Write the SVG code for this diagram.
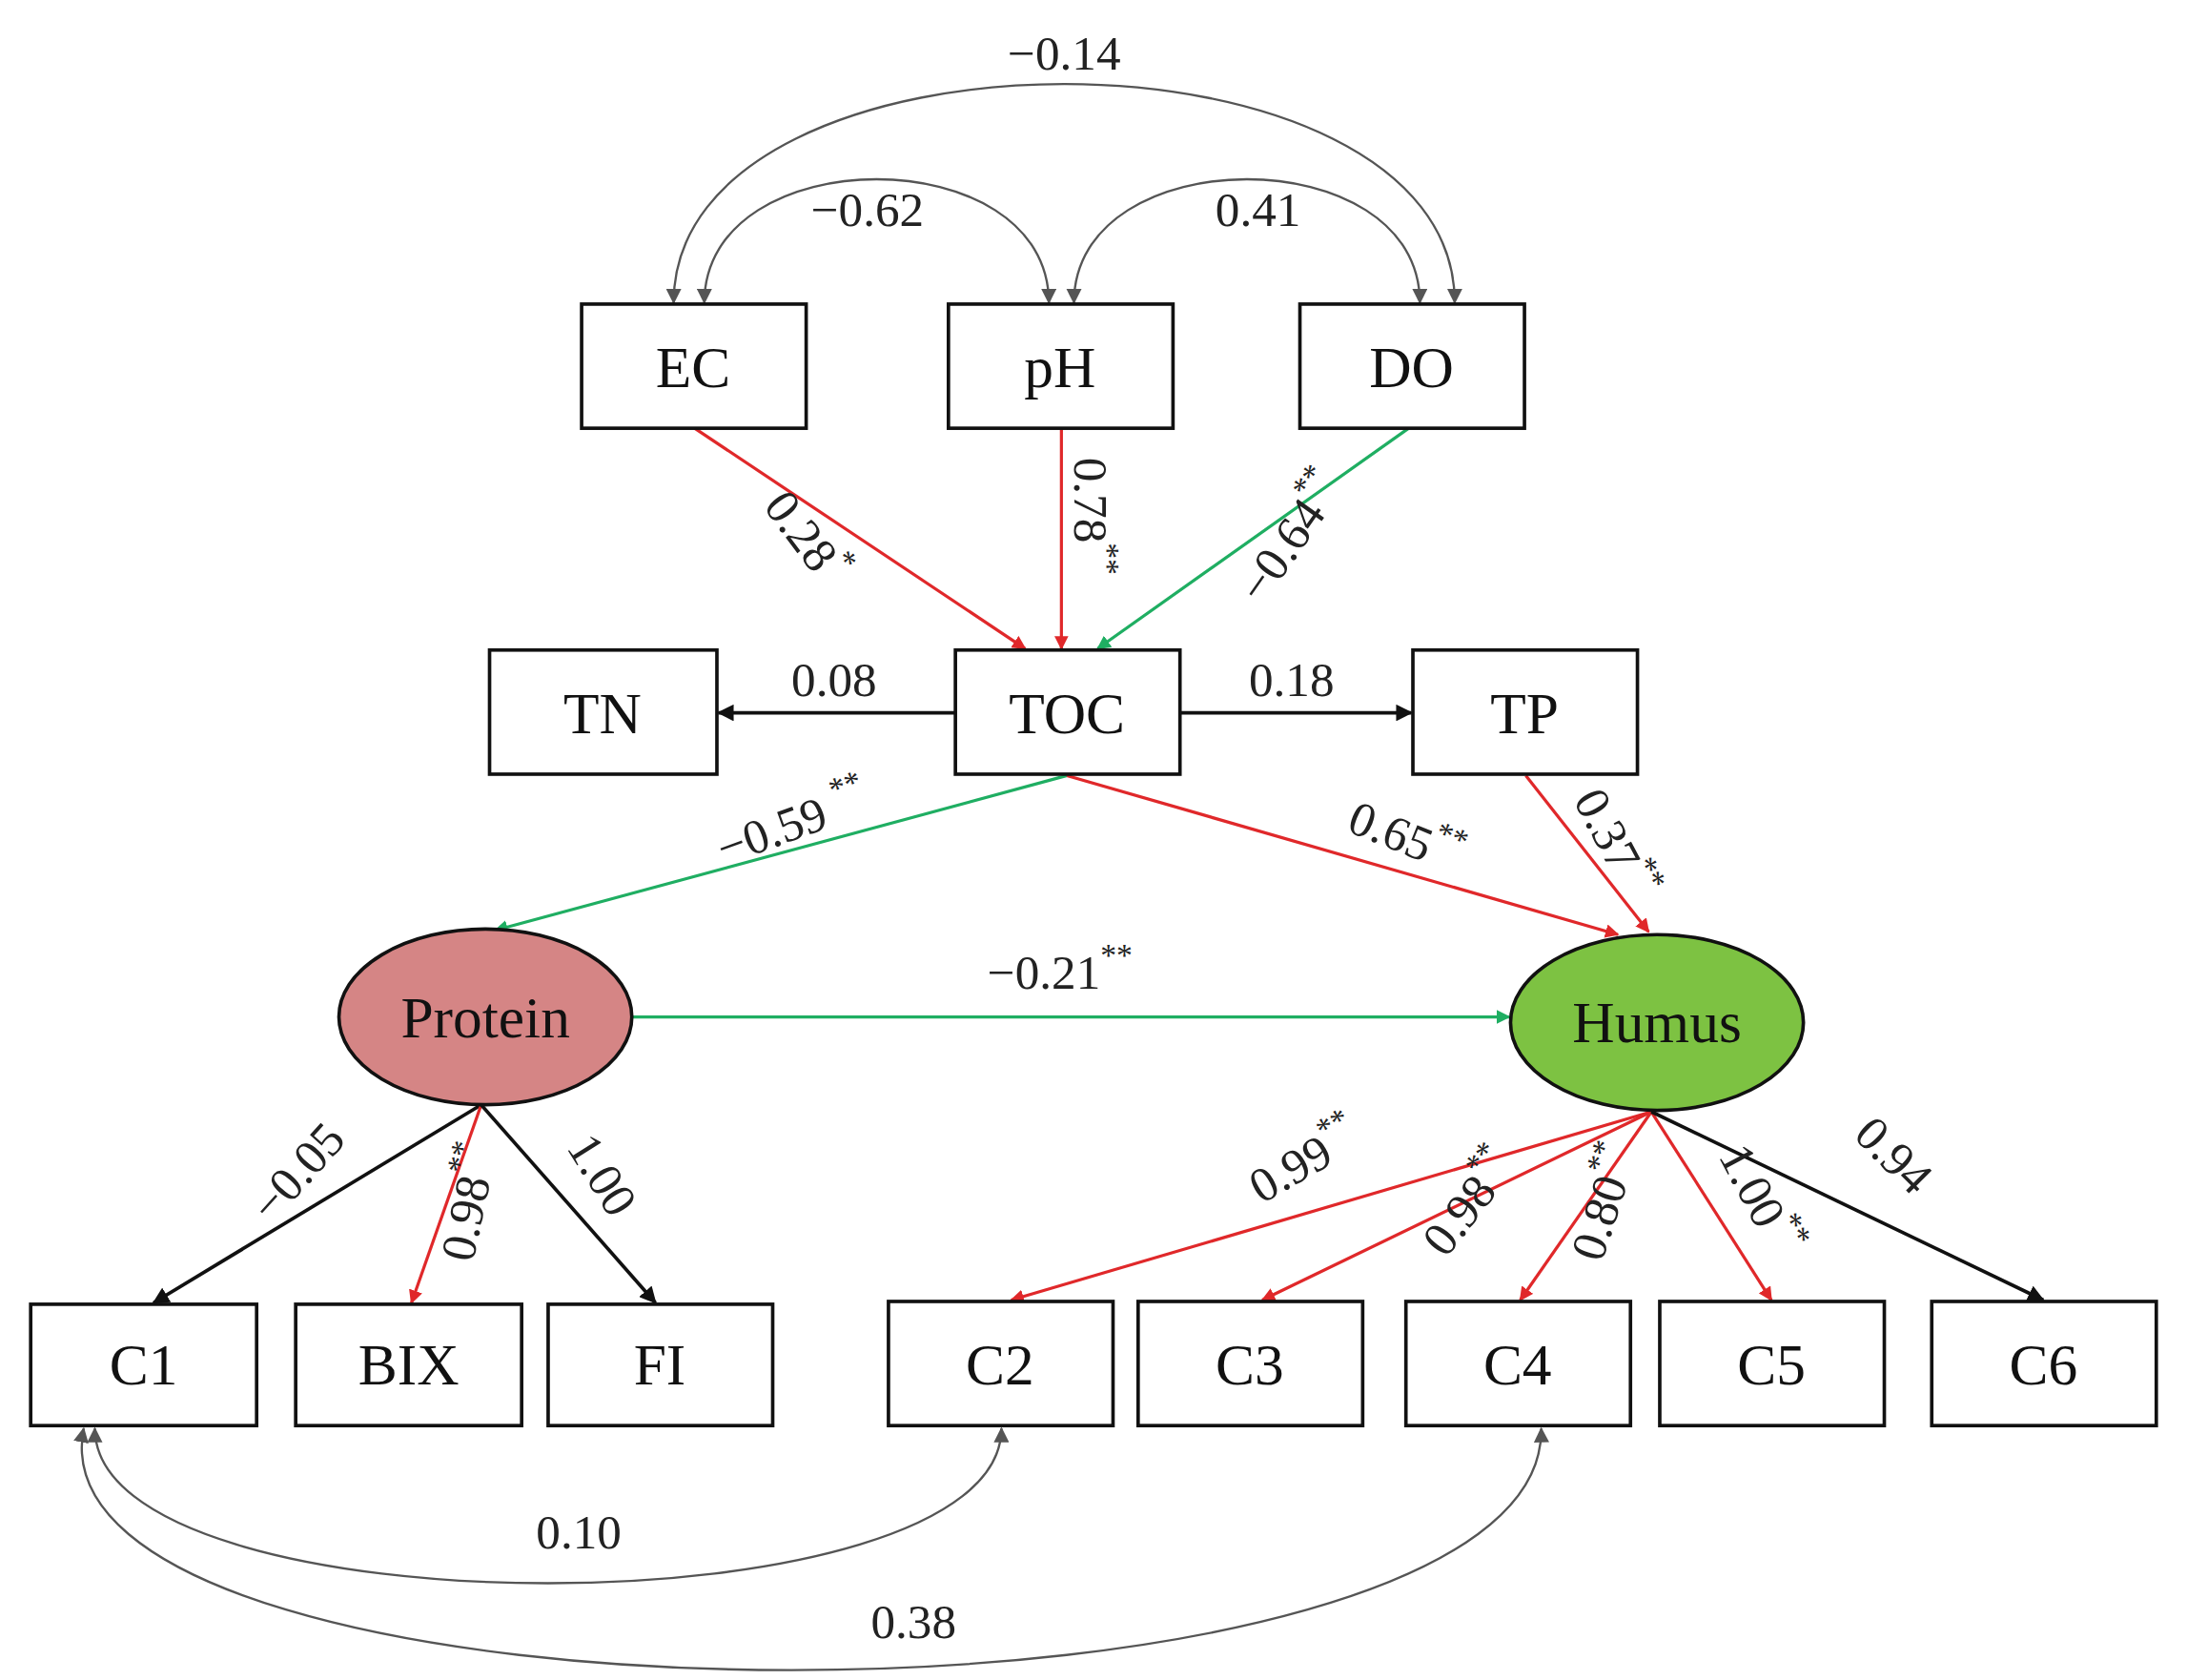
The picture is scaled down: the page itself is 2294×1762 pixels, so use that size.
<svg xmlns="http://www.w3.org/2000/svg" width="2294" height="1762" viewBox="0 0 2294 1762">
<defs>
<style>
.b{fill:#fff;stroke:#111;stroke-width:2.5}
.t{font-family:"Liberation Serif",serif;font-size:42px;fill:#111;text-anchor:middle;dominant-baseline:central}
.l{font-family:"Liberation Serif",serif;font-size:35px;fill:#222;text-anchor:middle;dominant-baseline:central}
.s{font-size:23px;baseline-shift:super}
.r{stroke:#e0282a;stroke-width:2.2;fill:none}
.g{stroke:#1fae62;stroke-width:2.2;fill:none}
.k{stroke:#111;stroke-width:2.5;fill:none}
.c{stroke:#555;stroke-width:1.6;fill:none}
</style>
<marker id="mr" markerWidth="10" markerHeight="10" refX="9" refY="5" orient="auto" markerUnits="userSpaceOnUse"><path d="M0,0 L10,5 L0,10 Z" fill="#e0282a"/></marker>
<marker id="mg" markerWidth="10" markerHeight="10" refX="9" refY="5" orient="auto" markerUnits="userSpaceOnUse"><path d="M0,0 L10,5 L0,10 Z" fill="#1fae62"/></marker>
<marker id="mk" markerWidth="12" markerHeight="12" refX="11" refY="6" orient="auto" markerUnits="userSpaceOnUse"><path d="M0,0 L12,6 L0,12 Z" fill="#111"/></marker>
<marker id="mc" markerWidth="11" markerHeight="11" refX="10" refY="5.5" orient="auto-start-reverse" markerUnits="userSpaceOnUse"><path d="M0,0 L11,5.5 L0,11 Z" fill="#555"/></marker>
</defs>
<rect width="2294" height="1762" fill="#fff"/>
<g transform="scale(1.463)">
<g id="connectors">
<path class="c" d="M483,217 C483,8 1043,8 1043,217" marker-start="url(#mc)" marker-end="url(#mc)"/>
<path class="c" d="M505,217 C505,99 752,99 752,217" marker-start="url(#mc)" marker-end="url(#mc)"/>
<path class="c" d="M770,217 C770,99 1018,99 1018,217" marker-start="url(#mc)" marker-end="url(#mc)"/>
<path class="c" d="M68,1024 C68,1172 718,1172 718,1024" marker-start="url(#mc)" marker-end="url(#mc)"/>
<path class="c" d="M60,1024 C15,1255 1110,1255 1105,1024" marker-start="url(#mc)" marker-end="url(#mc)"/>
<line class="r" x1="498" y1="307" x2="735" y2="465" marker-end="url(#mr)"/>
<line class="r" x1="761" y1="307" x2="761" y2="465" marker-end="url(#mr)"/>
<line class="g" x1="1010" y1="307" x2="787" y2="465" marker-end="url(#mg)"/>
<line class="k" x1="685" y1="511" x2="515" y2="511" marker-end="url(#mk)"/>
<line class="k" x1="846" y1="511" x2="1012" y2="511" marker-end="url(#mk)"/>
<line class="g" x1="765" y1="556" x2="355" y2="667" marker-end="url(#mg)"/>
<line class="r" x1="765" y1="556" x2="1160" y2="670" marker-end="url(#mr)"/>
<line class="r" x1="1094" y1="556" x2="1182" y2="668" marker-end="url(#mr)"/>
<line class="g" x1="453" y1="729" x2="1082" y2="729" marker-end="url(#mg)"/>
<line class="k" x1="345" y1="792" x2="110" y2="934" marker-end="url(#mk)"/>
<line class="r" x1="345" y1="792" x2="295" y2="934" marker-end="url(#mr)"/>
<line class="k" x1="345" y1="792" x2="470" y2="934" marker-end="url(#mk)"/>
<line class="r" x1="1184" y1="797" x2="725" y2="932" marker-end="url(#mr)"/>
<line class="r" x1="1184" y1="797" x2="905" y2="932" marker-end="url(#mr)"/>
<line class="r" x1="1184" y1="797" x2="1090" y2="932" marker-end="url(#mr)"/>
<line class="r" x1="1184" y1="797" x2="1270" y2="932" marker-end="url(#mr)"/>
<line class="k" x1="1184" y1="797" x2="1465" y2="932" marker-end="url(#mk)"/>
</g>
<g id="EC"><rect class="b" x="417" y="218" width="161" height="89"/><text class="t" x="497" y="263">EC</text></g>
<g id="pH"><rect class="b" x="680" y="218" width="161" height="89"/><text class="t" x="760" y="263">pH</text></g>
<g id="DO"><rect class="b" x="932" y="218" width="161" height="89"/><text class="t" x="1012" y="263">DO</text></g>
<g id="TN"><rect class="b" x="351" y="466" width="163" height="89"/><text class="t" x="432" y="511">TN</text></g>
<g id="TOC"><rect class="b" x="685" y="466" width="161" height="89"/><text class="t" x="765" y="511">TOC</text></g>
<g id="TP"><rect class="b" x="1013" y="466" width="161" height="89"/><text class="t" x="1093" y="511">TP</text></g>
<g id="Protein"><ellipse cx="348" cy="729" rx="105" ry="63" fill="#d58585" stroke="#111" stroke-width="2.5"/><text class="t" x="348" y="729">Protein</text></g>
<g id="Humus"><ellipse cx="1188" cy="733" rx="105" ry="63" fill="#7dc242" stroke="#111" stroke-width="2.5"/><text class="t" x="1188" y="733">Humus</text></g>
<g id="C1"><rect class="b" x="22" y="935" width="162" height="87"/><text class="t" x="103" y="978">C1</text></g>
<g id="BIX"><rect class="b" x="212" y="935" width="162" height="87"/><text class="t" x="293" y="978">BIX</text></g>
<g id="FI"><rect class="b" x="393" y="935" width="161" height="87"/><text class="t" x="473" y="978">FI</text></g>
<g id="C2"><rect class="b" x="637" y="933" width="161" height="89"/><text class="t" x="717" y="978">C2</text></g>
<g id="C3"><rect class="b" x="816" y="933" width="161" height="89"/><text class="t" x="896" y="978">C3</text></g>
<g id="C4"><rect class="b" x="1008" y="933" width="161" height="89"/><text class="t" x="1088" y="978">C4</text></g>
<g id="C5"><rect class="b" x="1190" y="933" width="161" height="89"/><text class="t" x="1270" y="978">C5</text></g>
<g id="C6"><rect class="b" x="1385" y="933" width="161" height="89"/><text class="t" x="1465" y="978">C6</text></g>
<g id="labels">
<text class="l" x="763" y="38">−0.14</text>
<text class="l" x="622" y="150">−0.62</text>
<text class="l" x="902" y="150">0.41</text>
<text class="l" transform="translate(578,385) rotate(53)">0.28<tspan class="s">*</tspan></text>
<text class="l" transform="translate(782,370) rotate(90)">0.78<tspan class="s">**</tspan></text>
<text class="l" transform="translate(925,385) rotate(-55)">−0.64<tspan class="s">**</tspan></text>
<text class="l" x="598" y="487">0.08</text>
<text class="l" x="926" y="487">0.18</text>
<text class="l" transform="translate(568,590) rotate(-20)">−0.59 <tspan class="s">**</tspan></text>
<text class="l" transform="translate(1008,600) rotate(22)">0.65<tspan class="s">**</tspan></text>
<text class="l" transform="translate(1158,605) rotate(62)">0.37<tspan class="s">**</tspan></text>
<text class="l" x="760" y="697">−0.21<tspan class="s">**</tspan></text>
<text class="l" transform="translate(213,840) rotate(-48)">−0.05</text>
<text class="l" transform="translate(336,862) rotate(-78)">0.98<tspan class="s">**</tspan></text>
<text class="l" transform="translate(432,842) rotate(58)">1.00</text>
<text class="l" transform="translate(935,832) rotate(-30)">0.99<tspan class="s">**</tspan></text>
<text class="l" transform="translate(1053,862) rotate(-52)">0.98<tspan class="s">**</tspan></text>
<text class="l" transform="translate(1150,862) rotate(-72)">0.80<tspan class="s">**</tspan></text>
<text class="l" transform="translate(1262,860) rotate(62)">1.00<tspan class="s">**</tspan></text>
<text class="l" transform="translate(1358,828) rotate(45)">0.94</text>
<text class="l" x="415" y="1098">0.10</text>
<text class="l" x="655" y="1162">0.38</text>
</g>
</g>
</svg>
